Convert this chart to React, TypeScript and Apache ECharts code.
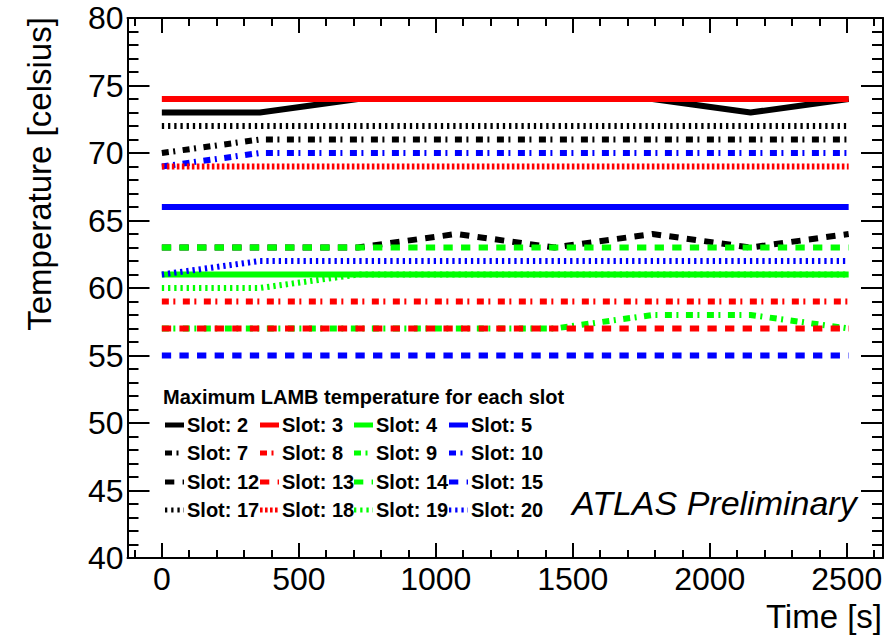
import React, { useEffect, useRef } from "react";
import * as echarts from "echarts";

const FONT = "Liberation Sans, Arial, Helvetica, sans-serif";

// Time stamps [s]
const times = [0, 358, 716, 1074, 1433, 1791, 2149, 2507];

// Maximum LAMB temperature per slot [celsius]
const slotNames = [
  "Slot: 2", "Slot: 3", "Slot: 4", "Slot: 5",
  "Slot: 7", "Slot: 8", "Slot: 9", "Slot: 10",
  "Slot: 12", "Slot: 13", "Slot: 14", "Slot: 15",
  "Slot: 17", "Slot: 18", "Slot: 19", "Slot: 20",
];
const slot2 = [73, 73, 74, 74, 74, 74, 73, 74];
const slot3 = [74, 74, 74, 74, 74, 74, 74, 74];
const slot4 = [61, 61, 61, 61, 61, 61, 61, 61];
const slot5 = [66, 66, 66, 66, 66, 66, 66, 66];
const slot7 = [70, 71, 71, 71, 71, 71, 71, 71];
const slot8 = [59, 59, 59, 59, 59, 59, 59, 59];
const slot9 = [57, 57, 57, 57, 57, 58, 58, 57];
const slot10 = [69, 70, 70, 70, 70, 70, 70, 70];
const slot12 = [63, 63, 63, 64, 63, 64, 63, 64];
const slot13 = [57, 57, 57, 57, 57, 57, 57, 57];
const slot14 = [63, 63, 63, 63, 63, 63, 63, 63];
const slot15 = [55, 55, 55, 55, 55, 55, 55, 55];
const slot17 = [72, 72, 72, 72, 72, 72, 72, 72];
const slot18 = [69, 69, 69, 69, 69, 69, 69, 69];
const slot19 = [60, 60, 61, 61, 61, 61, 61, 61];
const slot20 = [61, 62, 62, 62, 62, 62, 62, 62];
const slotValues = [
  slot2, slot3, slot4, slot5,
  slot7, slot8, slot9, slot10,
  slot12, slot13, slot14, slot15,
  slot17, slot18, slot19, slot20,
];

// Axis ticks
const xMajorTicks = [0, 500, 1000, 1500, 2000, 2500];
const xMinorTicks = [-100, 0, 100, 200, 300, 400, 500, 600, 700, 800, 900, 1000, 1100, 1200, 1300, 1400, 1500, 1600, 1700, 1800, 1900, 2000, 2100, 2200, 2300, 2400, 2500, 2600];
const X_MIN = -125.35;
const X_MAX = 2632.35;
const Y_MIN = 40;
const Y_MAX = 80;

// Styles
const colColors = ["#000000", "#ff0000", "#00ff00", "#0000ff"];
const rowDash: (number[] | null)[] = [null, [7, 4.5, 2, 7.5], [9.3, 8.3], [2.3, 3.9]];
const slot18Dash = [2.6, 2.4];

function dashFor(i: number) {
  if (i === 13) return slot18Dash;
  return rowDash[Math.floor(i / 4)];
}

export default function App() {
  const ref = useRef<HTMLDivElement>(null);

  useEffect(() => {
    if (!ref.current) return;
    const chart = echarts.init(ref.current, null, { renderer: "svg" });

    const series = slotValues.map((vals, i) => {
      const d = dashFor(i);
      return {
        name: slotNames[i],
        type: "line",
        xAxisIndex: 0,
        yAxisIndex: 0,
        data: times.map((t, k) => [t, vals[k]]),
        symbol: "none",
        showSymbol: false,
        silent: true,
        lineStyle: {
          color: colColors[i % 4],
          width: 6,
          type: d ? d : "solid",
          cap: "butt",
        },
        z: 2 + i * 0.01,
      };
    });

    const colX = [165, 260, 354, 449];
    const rowY = [425, 453, 482, 510];
    const legendEls: any[] = [];
    slotNames.forEach((name, i) => {
      const c = i % 4;
      const r = Math.floor(i / 4);
      const d = dashFor(i);
      legendEls.push({
        type: "line",
        shape: { x1: colX[c], y1: rowY[r], x2: colX[c] + 19, y2: rowY[r] },
        style: {
          stroke: colColors[c],
          lineWidth: 5,
          lineDash: d ? d : null,
          lineCap: "butt",
        },
        silent: true,
      });
      legendEls.push({
        type: "text",
        x: colX[c] + 22,
        y: rowY[r],
        style: {
          text: name,
          fill: "#000",
          fontFamily: FONT,
          fontSize: 20,
          fontWeight: "bold",
          textAlign: "left",
          textVerticalAlign: "middle",
        },
        silent: true,
      });
    });

    const axisLine = { show: true, onZero: false, lineStyle: { color: "#000", width: 2 } };
    const noLine = { show: false, onZero: false };

    const option: any = {
      animation: false,
      backgroundColor: "#ffffff",
      textStyle: { fontFamily: FONT },
      grid: {
        left: 127.5,
        top: 18,
        width: 755.5,
        height: 540,
        containLabel: false,
        outerBoundsMode: "none",
        show: false,
      },
      xAxis: [
        {
          type: "value",
          position: "bottom",
          min: X_MIN,
          max: X_MAX,
          axisLine,
          axisTick: {
            show: true,
            inside: true,
            length: 15,
            customValues: xMajorTicks,
            lineStyle: { color: "#000", width: 2 },
          },
          axisLabel: {
            show: true,
            customValues: xMajorTicks,
            formatter: (v: number) => String(v),
            color: "#000",
            fontSize: 32,
            fontFamily: FONT,
            margin: 5,
          },
          splitLine: { show: false },
        },
        {
          type: "value",
          position: "bottom",
          min: X_MIN,
          max: X_MAX,
          axisLine: noLine,
          axisTick: {
            show: true,
            inside: true,
            length: 8,
            customValues: xMinorTicks,
            lineStyle: { color: "#000", width: 2 },
          },
          axisLabel: { show: false },
          splitLine: { show: false },
        },
        {
          type: "value",
          position: "top",
          min: X_MIN,
          max: X_MAX,
          axisLine,
          axisTick: {
            show: true,
            inside: true,
            length: 15,
            customValues: xMajorTicks,
            lineStyle: { color: "#000", width: 2 },
          },
          axisLabel: { show: false },
          splitLine: { show: false },
        },
        {
          type: "value",
          position: "top",
          min: X_MIN,
          max: X_MAX,
          axisLine: noLine,
          axisTick: {
            show: true,
            inside: true,
            length: 8,
            customValues: xMinorTicks,
            lineStyle: { color: "#000", width: 2 },
          },
          axisLabel: { show: false },
          splitLine: { show: false },
        },
      ],
      yAxis: [
        {
          type: "value",
          position: "left",
          min: Y_MIN,
          max: Y_MAX,
          interval: 5,
          axisLine,
          axisTick: {
            show: true,
            inside: true,
            length: 22,
            lineStyle: { color: "#000", width: 2 },
          },
          minorTick: {
            show: true,
            splitNumber: 5,
            length: 11,
            lineStyle: { color: "#000", width: 2 },
          },
          axisLabel: {
            show: true,
            color: "#000",
            fontSize: 32,
            fontFamily: FONT,
            margin: 4,
          },
          splitLine: { show: false },
          minorSplitLine: { show: false },
        },
        {
          type: "value",
          position: "right",
          min: Y_MIN,
          max: Y_MAX,
          interval: 5,
          axisLine,
          axisTick: {
            show: true,
            inside: true,
            length: 22,
            lineStyle: { color: "#000", width: 2 },
          },
          minorTick: {
            show: true,
            splitNumber: 5,
            length: 11,
            lineStyle: { color: "#000", width: 2 },
          },
          axisLabel: { show: false },
          splitLine: { show: false },
          minorSplitLine: { show: false },
        },
      ],
      series,
      graphic: [
        {
          type: "text",
          x: 39,
          y: 174,
          rotation: Math.PI / 2,
          style: {
            text: "Temperature [celsius]",
            fill: "#000",
            fontFamily: FONT,
            fontSize: 33,
            textAlign: "center",
            textVerticalAlign: "middle",
          },
          silent: true,
        },
        {
          type: "text",
          x: 882,
          y: 616,
          style: {
            text: "Time [s]",
            fill: "#000",
            fontFamily: FONT,
            fontSize: 33,
            textAlign: "right",
            textVerticalAlign: "middle",
          },
          silent: true,
        },
        {
          type: "text",
          x: 572,
          y: 503,
          style: {
            text: "ATLAS Preliminary",
            fill: "#000",
            fontFamily: FONT,
            fontSize: 34,
            fontStyle: "italic",
            textAlign: "left",
            textVerticalAlign: "middle",
          },
          silent: true,
        },
        {
          type: "text",
          x: 163,
          y: 397,
          style: {
            text: "Maximum LAMB temperature for each slot",
            fill: "#000",
            fontFamily: FONT,
            fontSize: 20,
            fontWeight: "bold",
            textAlign: "left",
            textVerticalAlign: "middle",
          },
          silent: true,
        },
        ...legendEls,
      ],
    };

    chart.setOption(option);
    return () => {
      chart.dispose();
    };
  }, []);

  return (
    <div
      ref={ref}
      style={{ position: "fixed", left: 0, top: 0, width: 884, height: 637 }}
    />
  );
}
